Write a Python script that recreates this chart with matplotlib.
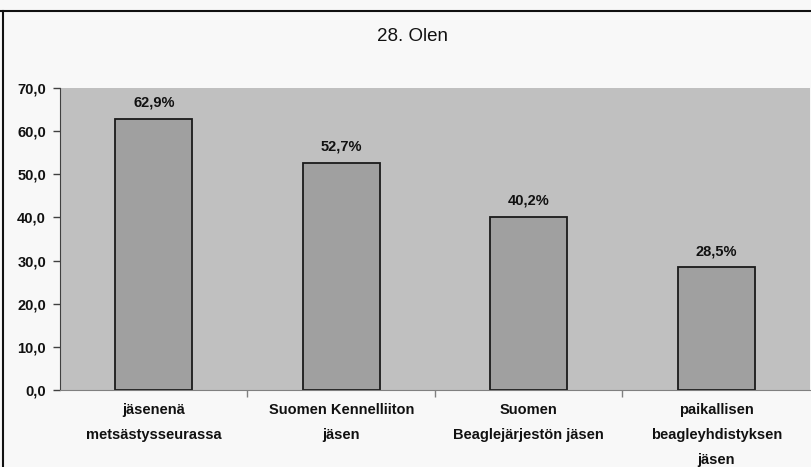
import matplotlib.pyplot as plt
from matplotlib.lines import Line2D

categories = [
    "jäsenenä\nmetsästysseurassa",
    "Suomen Kennelliiton\njäsen",
    "Suomen\nBeaglejärjestön jäsen",
    "paikallisen\nbeagleyhdistyksen\njäsen",
]
values = [62.9, 52.7, 40.2, 28.5]
yticks = [0, 10, 20, 30, 40, 50, 60, 70]

plt.rcParams['font.family'] = ['Liberation Sans', 'DejaVu Sans']

fig = plt.figure(figsize=(8.12, 4.67), dpi=100, facecolor='#f8f8f8')
ax = fig.add_axes([0.0739, 0.1649, 0.9236, 0.6467])
ax.set_facecolor('#c0c0c0')

x = list(range(len(values)))
ax.bar(x, values, width=0.41, color='#a0a0a0', edgecolor='#1a1a1a', linewidth=1.3, zorder=2)

for xi, v in zip(x, values):
    ax.text(xi, v + 2.0, f"{v:.1f}%".replace('.', ','), ha='center', va='bottom',
            fontsize=10.5, fontweight='bold', color='#111111')

ax.set_xlim(-0.5, len(values) - 0.5)
ax.set_ylim(0, 70)
ax.set_yticks(yticks)
ax.set_yticklabels([f"{t:.1f}".replace('.', ',') for t in yticks],
                   fontsize=10.5, fontweight='bold', color='#111111')

# category labels between boundary ticks
ax.set_xticks([i + 0.5 for i in range(len(values) - 1)])
ax.set_xticklabels([])
ax.tick_params(axis='x', length=5, color='#808080', width=1)
ax.tick_params(axis='y', length=5, color='#404040', width=1, pad=5)
for xi, lab in zip(x, categories):
    ax.text(xi, -3.0, lab, ha='center', va='top', fontsize=10.5, fontweight='bold',
            color='#111111', linespacing=2.0, transform=ax.transData, clip_on=False)

for s in ['top', 'right']:
    ax.spines[s].set_visible(False)
ax.spines['left'].set_color('#404040')
ax.spines['bottom'].set_color('#808080')

fig.text(0.508, 0.922, "28. Olen", ha='center', va='center', fontsize=13.5, color='#111111')

# outer frame of the original chart
fig.add_artist(Line2D([0, 1], [0.976, 0.976], transform=fig.transFigure, color='#111111', linewidth=1.5))
fig.add_artist(Line2D([0.004, 0.004], [0, 0.976], transform=fig.transFigure, color='#111111', linewidth=1.5))

fig.savefig('out.png', dpi=100, facecolor=fig.get_facecolor())
